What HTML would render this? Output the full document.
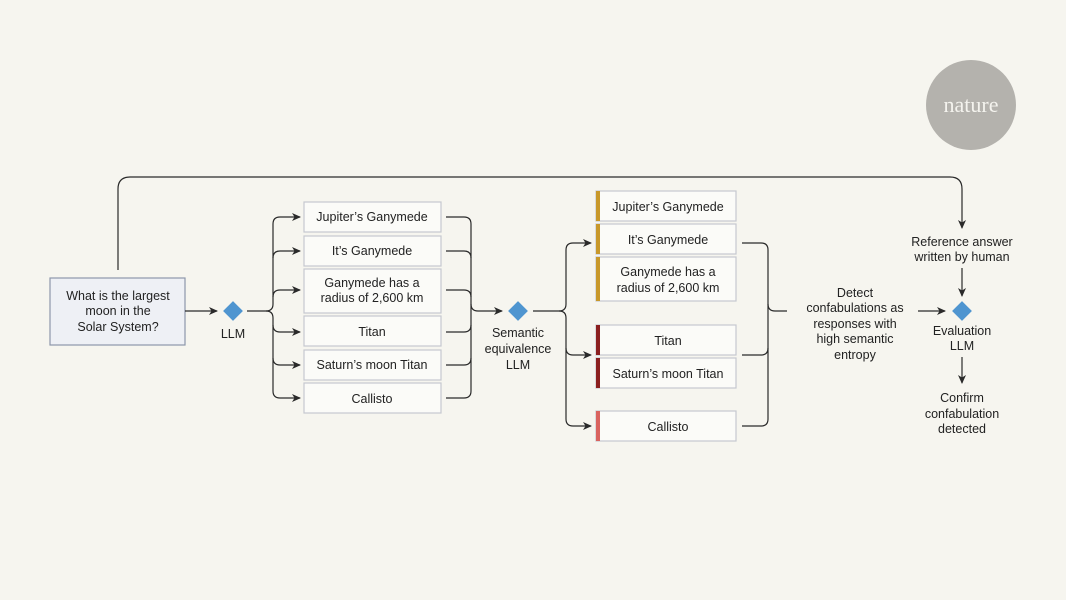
<!DOCTYPE html>
<html><head><meta charset="utf-8"><style>
html,body{margin:0;padding:0;background:#f6f5ef;}
svg{display:block;}
text{font-family:"Liberation Sans",sans-serif;font-size:12.5px;fill:#222;text-anchor:middle;}
.b{fill:#fbfbf8;stroke:#c6c8cf;stroke-width:1.2;}
.l{fill:none;stroke:#2a2a2a;stroke-width:1.2;}
.d{fill:#4f95d0;}
</style></head><body>
<svg width="1066" height="600" viewBox="0 0 1066 600">
<defs><marker id="a" markerWidth="10" markerHeight="10" refX="8" refY="5" orient="auto" markerUnits="userSpaceOnUse"><path d="M0,1 L9,5 L0,9 L2.5,5 Z" fill="#2a2a2a"/></marker></defs>
<rect width="1066" height="600" fill="#f6f5ef"/>
<circle cx="971" cy="105" r="45" fill="#b4b2ad"/>
<text x="971" y="112" style="font-family:'Liberation Serif',serif;font-size:22px;fill:#f4f3ee">nature</text>
<!-- top loop -->
<path class="l" d="M118,270 V189 Q118,177 130,177 H950 Q962,177 962,189 V228" marker-end="url(#a)"/>
<!-- question -->
<rect x="50" y="278" width="135" height="67" fill="#eef0f5" stroke="#8d97aa" stroke-width="1.2"/>
<text x="118" y="300">What is the largest</text>
<text x="118" y="315">moon in the</text>
<text x="118" y="331">Solar System?</text>
<path class="l" d="M185,311 H217" marker-end="url(#a)"/>
<rect class="d" x="226" y="304" width="14" height="14" transform="rotate(45 233 311)"/>
<text x="233" y="338">LLM</text>
<!-- left fan -->
<path class="l" d="M247,311 H266 Q273,311 273,304 V224 Q273,217 280,217 H300" marker-end="url(#a)"/>
<path class="l" d="M273,258 Q273,251 280,251 H300" marker-end="url(#a)"/>
<path class="l" d="M273,297 Q273,290 280,290 H300" marker-end="url(#a)"/>
<path class="l" d="M266,311 Q273,311 273,318 V391 Q273,398 280,398 H300" marker-end="url(#a)"/>
<path class="l" d="M273,325 Q273,332 280,332 H300" marker-end="url(#a)"/>
<path class="l" d="M273,358 Q273,365 280,365 H300" marker-end="url(#a)"/>
<rect class="b" x="304" y="202" width="137" height="30"/><text x="372" y="221">Jupiter’s Ganymede</text>
<rect class="b" x="304" y="236" width="137" height="30"/><text x="372" y="255">It’s Ganymede</text>
<rect class="b" x="304" y="269" width="137" height="44"/><text x="372" y="287">Ganymede has a</text><text x="372" y="302">radius of 2,600 km</text>
<rect class="b" x="304" y="316" width="137" height="30"/><text x="372" y="336">Titan</text>
<rect class="b" x="304" y="350" width="137" height="30"/><text x="372" y="369">Saturn’s moon Titan</text>
<rect class="b" x="304" y="383" width="137" height="30"/><text x="372" y="403">Callisto</text>
<!-- right bracket 1 -->
<path class="l" d="M446,217 H464 Q471,217 471,224 V391 Q471,398 464,398 H446"/>
<path class="l" d="M446,251 H464 Q471,251 471,258"/>
<path class="l" d="M446,290 H464 Q471,290 471,297"/>
<path class="l" d="M446,332 H464 Q471,332 471,325"/>
<path class="l" d="M446,365 H464 Q471,365 471,358"/>
<path class="l" d="M471,304 Q471,311 478,311 H502" marker-end="url(#a)"/>
<rect class="d" x="511" y="304" width="14" height="14" transform="rotate(45 518 311)"/>
<text x="518" y="337">Semantic</text><text x="518" y="353">equivalence</text><text x="518" y="369">LLM</text>
<!-- second fan -->
<path class="l" d="M533,311 H559 Q566,311 566,304 V250 Q566,243 573,243 H591" marker-end="url(#a)"/>
<path class="l" d="M559,311 Q566,311 566,318 V419 Q566,426 573,426 H591" marker-end="url(#a)"/>
<path class="l" d="M566,348 Q566,355 573,355 H591" marker-end="url(#a)"/>
<g>
<rect class="b" x="596" y="191" width="140" height="30"/><rect x="596" y="191" width="4" height="30" fill="#c8982a"/><text x="668" y="211">Jupiter’s Ganymede</text>
<rect class="b" x="596" y="224" width="140" height="30"/><rect x="596" y="224" width="4" height="30" fill="#c8982a"/><text x="668" y="244">It’s Ganymede</text>
<rect class="b" x="596" y="257" width="140" height="44"/><rect x="596" y="257" width="4" height="44" fill="#c8982a"/><text x="668" y="276">Ganymede has a</text><text x="668" y="292">radius of 2,600 km</text>
<rect class="b" x="596" y="325" width="140" height="30"/><rect x="596" y="325" width="4" height="30" fill="#8b1f1f"/><text x="668" y="345">Titan</text>
<rect class="b" x="596" y="358" width="140" height="30"/><rect x="596" y="358" width="4" height="30" fill="#8b1f1f"/><text x="668" y="378">Saturn’s moon Titan</text>
<rect class="b" x="596" y="411" width="140" height="30"/><rect x="596" y="411" width="4" height="30" fill="#d9635f"/><text x="668" y="431">Callisto</text>
</g>
<path class="l" d="M742,243 H761 Q768,243 768,250 V419 Q768,426 761,426 H742"/>
<path class="l" d="M742,355 H761 Q768,355 768,348"/>
<path class="l" d="M768,304 Q768,311 775,311 H787"/>
<text x="855" y="297">Detect</text><text x="855" y="312">confabulations as</text><text x="855" y="328">responses with</text><text x="855" y="343">high semantic</text><text x="855" y="359">entropy</text>
<path class="l" d="M918,311 H945" marker-end="url(#a)"/>
<rect class="d" x="955" y="304" width="14" height="14" transform="rotate(45 962 311)"/>
<text x="962" y="246">Reference answer</text><text x="962" y="261">written by human</text>
<path class="l" d="M962,268 V296" marker-end="url(#a)"/>
<text x="962" y="335">Evaluation</text><text x="962" y="350">LLM</text>
<path class="l" d="M962,357 V383" marker-end="url(#a)"/>
<text x="962" y="402">Confirm</text><text x="962" y="418">confabulation</text><text x="962" y="433">detected</text>
</svg>
</body></html>
